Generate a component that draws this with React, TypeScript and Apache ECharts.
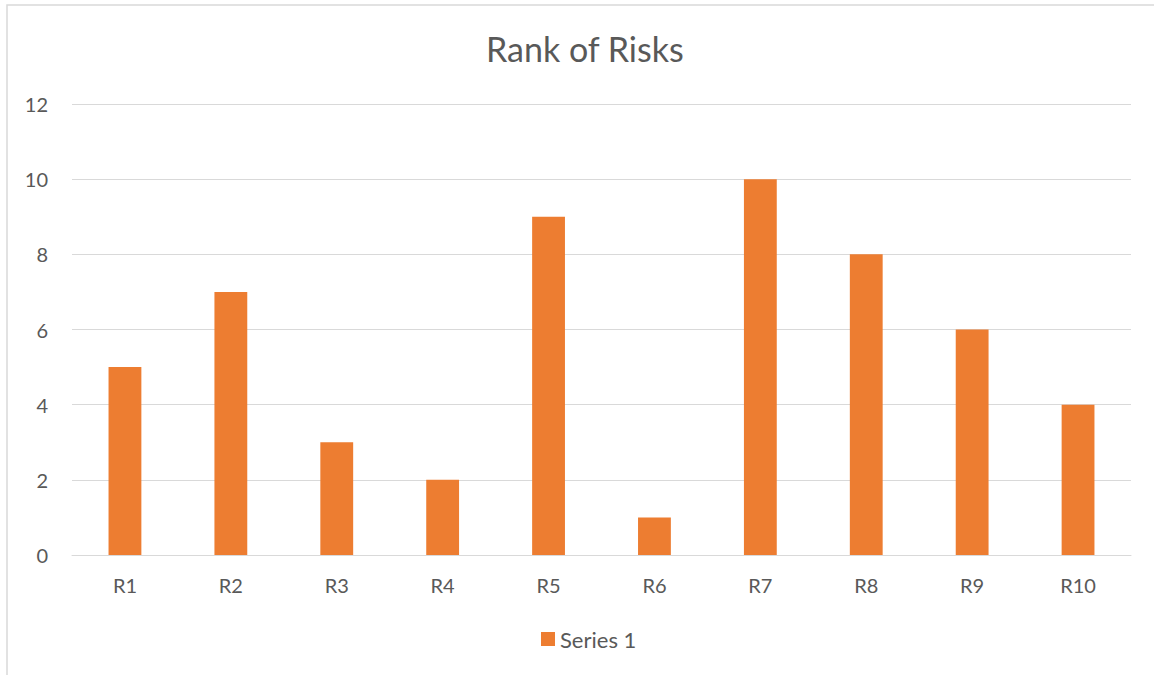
import React, { useEffect, useRef } from "react";
import * as echarts from "echarts";

const categories = ["R1", "R2", "R3", "R4", "R5", "R6", "R7", "R8", "R9", "R10"];
const series1 = [5, 7, 3, 2, 9, 1, 10, 8, 6, 4];
const seriesName = "Series 1";
const title = "Rank of Risks";

export default function App() {
  const ref = useRef<HTMLDivElement>(null);
  useEffect(() => {
    if (!ref.current) return;
    const chart = echarts.init(ref.current, null, { renderer: "svg" });
    const font = "Lato, 'Open Sans', sans-serif";
    chart.setOption({
      animation: false,
      backgroundColor: "#ffffff",
      title: {
        text: title,
        left: 486,
        top: 31,
        padding: 0,
        textStyle: { fontFamily: font, fontSize: 34, fontWeight: "normal", color: "#595959" },
      },
      legend: {
        bottom: 20,
        left: 536,
        itemWidth: 14,
        itemHeight: 14,
        itemGap: 6,
        icon: "rect",
        textStyle: { fontFamily: font, fontSize: 22, color: "#595959" },
        data: [seriesName],
      },
      grid: { left: 72, right: 23, top: 104, bottom: 120 },
      xAxis: {
        type: "category",
        data: categories,
        axisLine: { lineStyle: { color: "#d9d9d9", width: 1 } },
        axisTick: { show: false },
        axisLabel: { fontFamily: font, fontSize: 20, color: "#595959", margin: 20 },
      },
      yAxis: {
        type: "value",
        min: 0,
        max: 12,
        interval: 2,
        axisLine: { show: false },
        axisTick: { show: false },
        splitLine: { lineStyle: { color: "#d9d9d9", width: 1 } },
        axisLabel: { fontFamily: font, fontSize: 20, color: "#595959", margin: 24 },
      },
      series: [
        {
          name: seriesName,
          type: "bar",
          data: series1,
          barWidth: "31%",
          itemStyle: { color: "#ED7D31" },
        },
      ],
      graphic: [
        {
          type: "rect",
          shape: { x: 7, y: 5, width: 1170, height: 700 },
          style: { fill: "none", stroke: "#d9d9d9", lineWidth: 1.5 },
          silent: true,
        },
      ],
    });
    return () => chart.dispose();
  }, []);
  return (
    <div
      ref={ref}
      style={{ position: "fixed", left: 0, top: 0, width: 1154, height: 675 }}
    />
  );
}
